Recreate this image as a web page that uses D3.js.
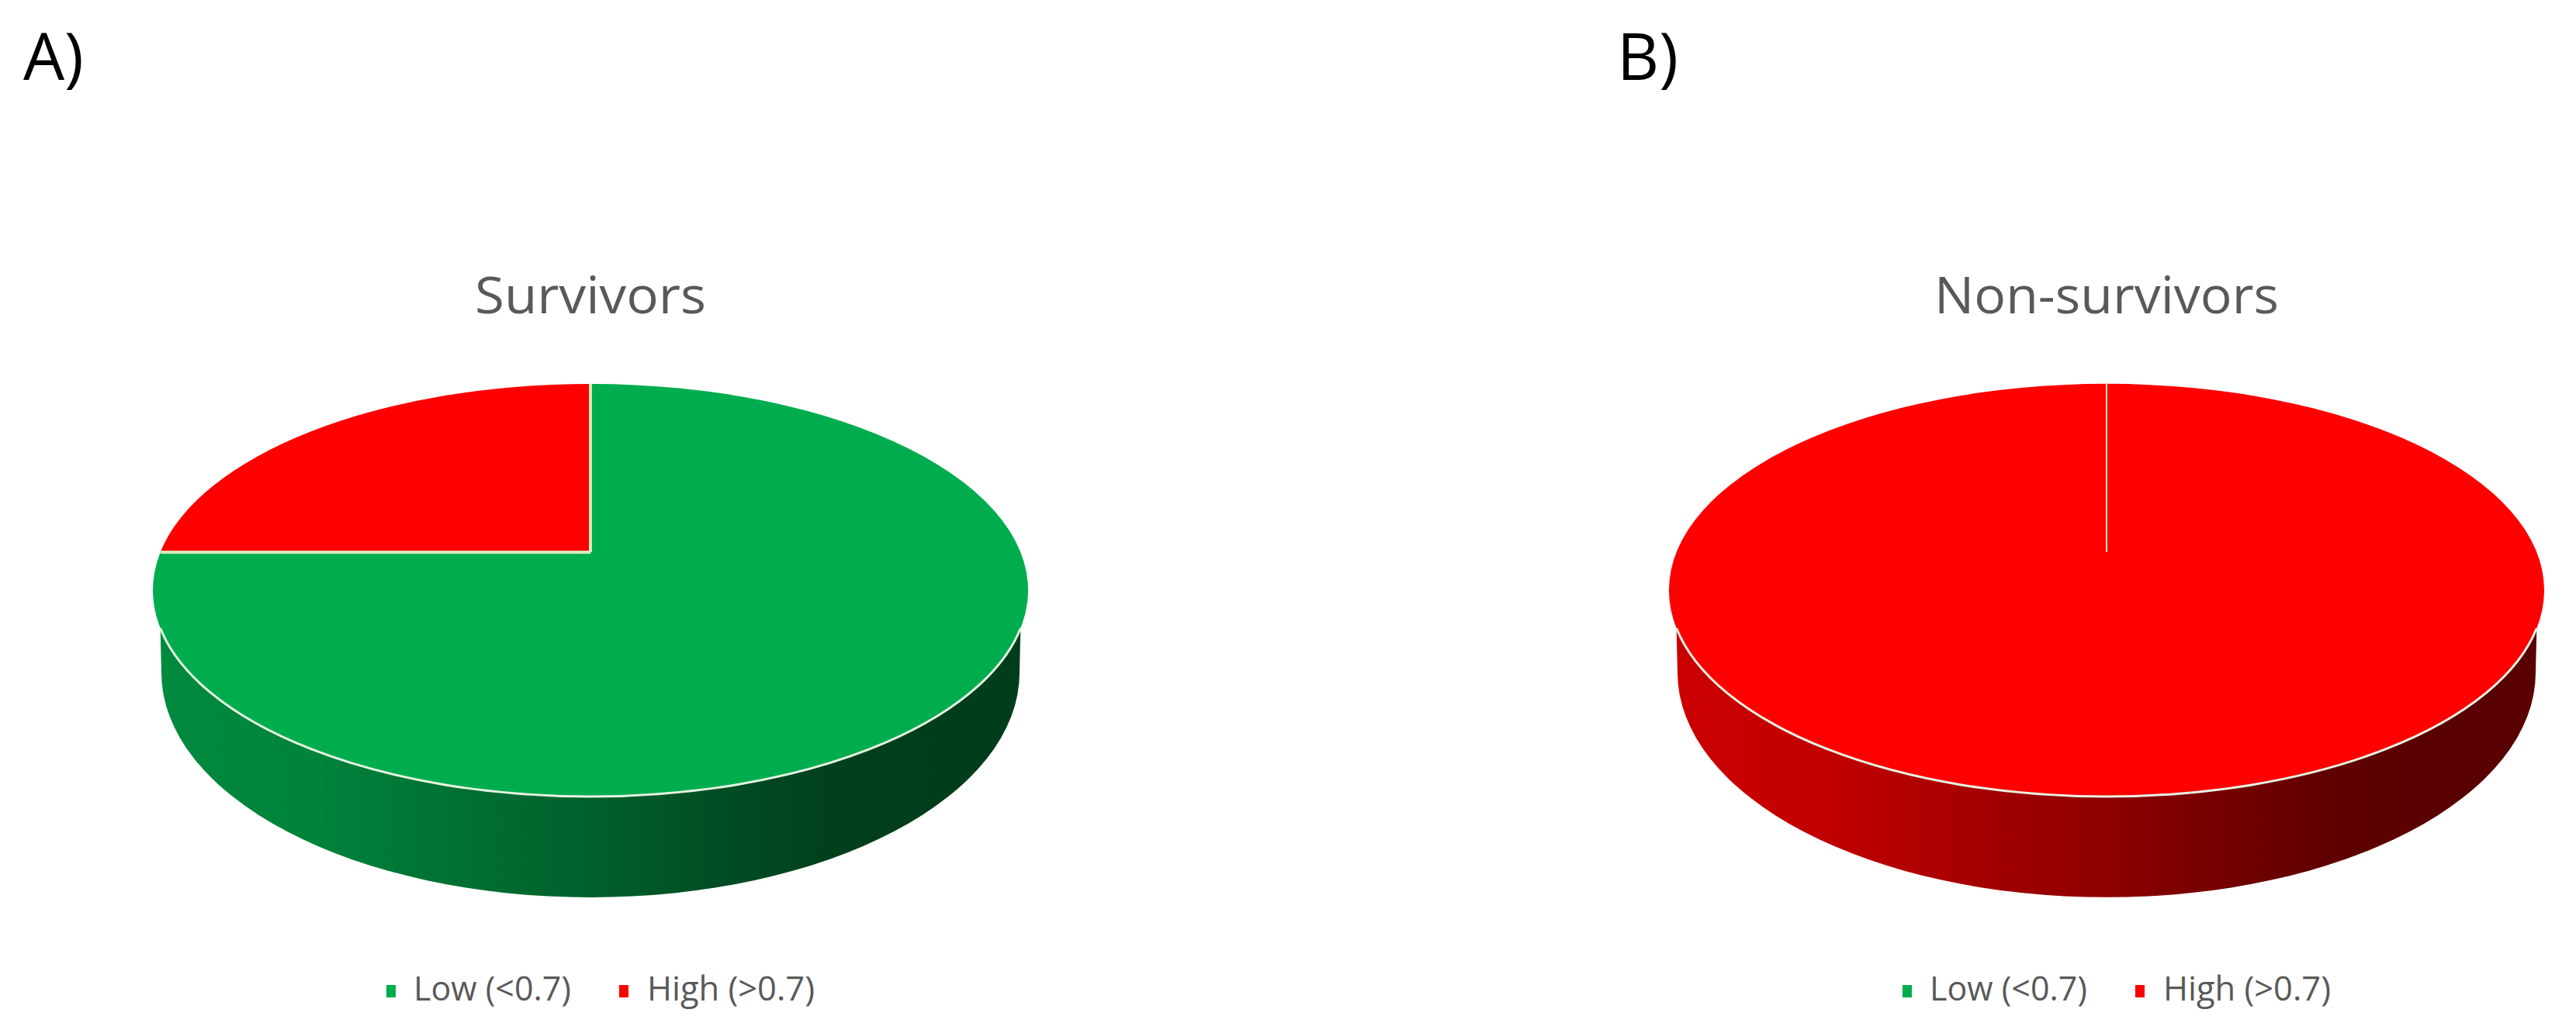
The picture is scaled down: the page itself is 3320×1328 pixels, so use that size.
<!DOCTYPE html>
<html><head><meta charset="utf-8">
<script src="https://cdn.jsdelivr.net/npm/d3@7/dist/d3.min.js"></script>
<style>html,body{margin:0;padding:0;background:#fff}svg{display:block}</style>
</head><body>
<script>
const categories = ["Low (<0.7)", "High (>0.7)"];
const survivorsValues = [75, 25];
const nonSurvivorsValues = [0, 100];
const panelLabels = ["A)", "B)"];
const chartTitles = ["Survivors", "Non-survivors"];
const sliceColors = ["#00ad4e", "#fe0000"];

const W = 3320, H = 1328;
const svg = d3.select("body").append("svg").attr("width", W).attr("height", H);
const defs = svg.append("defs");
const font = "'Open Sans','Noto Sans',sans-serif";

const panels = [
  {cx: 761, label: panelLabels[0], lx: 30, title: chartTitles[0], titleW: 298, values: survivorsValues},
  {cx: 2715, label: panelLabels[1], lx: 2084, title: chartTitles[1], titleW: 444, values: nonSurvivorsValues}
];

const RX = 564, RY = 266, CY = 761, APEX_Y = 712;
const BOT_RX = 553, BOT_RY = 290, BOT_CY = 867, RIM_START_Y = 810;
const TAU = 2 * Math.PI;
const pie = d3.pie().sort(null).value(d => d);

// Where a ray from the perspective-shifted apex at pie angle a meets the top ellipse
function rim(cx, a) {
  const dx = Math.sin(a), dy = -Math.cos(a), oy = APEX_Y - CY;
  const A = dx*dx/(RX*RX) + dy*dy/(RY*RY), B = 2*oy*dy/(RY*RY), C = oy*oy/(RY*RY) - 1;
  const t = (-B + Math.sqrt(B*B - 4*A*C)) / (2*A);
  return [cx + dx*t, APEX_Y + dy*t];
}

panels.forEach((p, pi) => {
  const g = svg.append("g");
  const arcs = pie(p.values);

  g.append("text").attr("x", p.lx).attr("y", 103).attr("font-family", font)
    .attr("font-size", 84).attr("fill", "#000").text(p.label);

  g.append("text").attr("x", p.cx - p.titleW/2).attr("y", 404)
    .attr("font-family", font).attr("font-size", 66).attr("fill", "#595959")
    .attr("textLength", p.titleW).attr("lengthAdjust", "spacingAndGlyphs").text(p.title);

  // side wall, coloured by the slice facing the viewer
  const frontIdx = arcs.findIndex(d => d.startAngle <= Math.PI && Math.PI < d.endAngle);
  const base = d3.rgb(sliceColors[frontIdx]);
  const gid = "side" + pi;
  const grad = defs.append("linearGradient").attr("id", gid)
    .attr("gradientUnits", "userSpaceOnUse")
    .attr("x1", p.cx - BOT_RX).attr("x2", p.cx + BOT_RX).attr("y1", 0).attr("y2", 0);
  [[0,.80],[.175,.76],[.377,.63],[.51,.55],[.644,.45],[.777,.37],[.91,.35],[1,.35]].forEach(([o, k]) => {
    grad.append("stop").attr("offset", o)
      .attr("stop-color", d3.rgb(base.r*k, base.g*k, base.b*k).formatHex());
  });
  const hw = Math.sqrt(1 - ((RIM_START_Y - CY)/RY)**2) * RX;
  g.append("path").attr("fill", `url(#${gid})`)
    .attr("d", `M${p.cx-hw},${RIM_START_Y}L${p.cx-BOT_RX},${BOT_CY}A${BOT_RX},${BOT_RY} 0 0 0 ${p.cx+BOT_RX},${BOT_CY}L${p.cx+hw},${RIM_START_Y}Z`);

  // top face slices
  arcs.forEach((d, i) => {
    const span = d.endAngle - d.startAngle;
    if (span <= 0) return;
    const s = rim(p.cx, d.startAngle), e = rim(p.cx, d.endAngle);
    const path = span >= TAU - 1e-6
      ? `M${p.cx-RX},${CY}A${RX},${RY} 0 1 1 ${p.cx+RX},${CY}A${RX},${RY} 0 1 1 ${p.cx-RX},${CY}Z`
      : `M${p.cx},${APEX_Y}L${s[0]},${s[1]}A${RX},${RY} 0 ${span > Math.PI ? 1 : 0} 1 ${e[0]},${e[1]}Z`;
    g.append("path").attr("d", path).attr("fill", sliceColors[i]);
  });

  // front rim highlight
  g.append("path").attr("fill", "none").attr("stroke", "#e6f3e2").attr("stroke-width", 3)
    .attr("d", `M${p.cx-hw},${RIM_START_Y}A${RX},${RY} 0 0 0 ${p.cx+hw},${RIM_START_Y}`);

  // slice separators
  const seps = Array.from(new Set(arcs.map(d => +(d.startAngle % TAU).toFixed(6))));
  seps.forEach(a => {
    const r = rim(p.cx, a);
    g.append("line").attr("x1", p.cx).attr("y1", APEX_Y).attr("x2", r[0]).attr("y2", r[1])
      .attr("stroke", "#d4e9be").attr("stroke-width", pi === 0 ? 4 : 2);
  });

  // legend
  const legX = [[498, 533, 203], [798, 834, 216]];
  categories.forEach((c, i) => {
    const off = p.cx - 761;
    g.append("rect").attr("x", legX[i][0] + off).attr("y", 1270).attr("width", 12).attr("height", 16)
      .attr("fill", sliceColors[i]);
    g.append("text").attr("x", legX[i][1] + off).attr("y", 1290)
      .attr("font-family", font).attr("font-size", 44).attr("fill", "#595959")
      .attr("textLength", legX[i][2]).attr("lengthAdjust", "spacingAndGlyphs").text(c);
  });
});
</script>
</body></html>
